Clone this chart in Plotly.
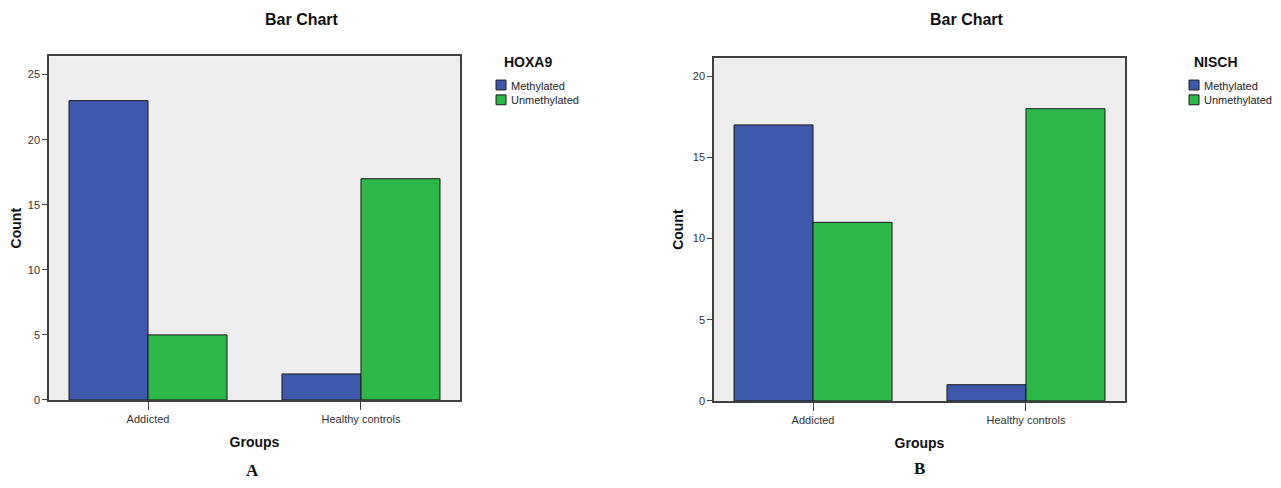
import plotly.graph_objects as go

# ---- data ----
groups = ["Addicted", "Healthy controls"]
status_names = ["Methylated", "Unmethylated"]
status_colors = ["#3e58ab", "#2eb749"]

hoxa9_methylated = [23, 2]
hoxa9_unmethylated = [5, 17]
nisch_methylated = [17, 1]
nisch_unmethylated = [11, 18]

hoxa9_ticks = [0, 5, 10, 15, 20, 25]
nisch_ticks = [0, 5, 10, 15, 20]

panel_genes = ["HOXA9", "NISCH"]
panel_letters = ["A", "B"]

# page body has an 8px margin; the figure fills the rest of the window
OFF = 8
W, H = 1281 - 2 * OFF, 488 - 2 * OFF
FONT = "Arial, 'Liberation Sans', sans-serif"


def px(x):
    return (x - OFF) / W


def py(y):
    return 1 - (y - OFF) / H


fig = go.Figure()

series = [
    ("x", "y", [hoxa9_methylated, hoxa9_unmethylated]),
    ("x2", "y2", [nisch_methylated, nisch_unmethylated]),
]
for xa, ya, vals in series:
    for name, color, v in zip(status_names, status_colors, vals):
        fig.add_trace(go.Bar(
            x=groups, y=v, name=name, xaxis=xa, yaxis=ya,
            marker=dict(color=color, line=dict(color="#1a1a1a", width=1)),
            showlegend=False,
        ))

axis_common_y = dict(
    showgrid=False, zeroline=False, showline=True, linecolor="#404040",
    linewidth=1.5, mirror=True, ticks="outside", ticklen=5, tickwidth=1.2,
    tickcolor="#404040", tickfont=dict(family=FONT, size=11, color="#333333"),
    title=dict(text="<b>Count</b>",
               font=dict(family=FONT, size=14, color="#111111"), standoff=6),
    fixedrange=True,
)
axis_common_x = dict(
    type="category", showgrid=False, zeroline=False, showline=True,
    linecolor="#404040", linewidth=1.5, mirror=True, ticks="outside",
    ticklen=8, tickwidth=1.2, tickcolor="#404040",
    tickfont=dict(family=FONT, size=11, color="#333333"),
    title=dict(text="<b>Groups</b>",
               font=dict(family=FONT, size=14, color="#111111"), standoff=13),
    range=[-0.465, 1.465],
)

fig.update_layout(
    width=W, height=H, autosize=False,
    margin=dict(l=0, r=0, t=0, b=0),
    paper_bgcolor="white", plot_bgcolor="#eeeeee",
    barmode="group", bargap=0.258, bargroupgap=0,
    showlegend=False,
    xaxis=dict(domain=[px(49), px(460)], anchor="y", **axis_common_x),
    yaxis=dict(domain=[py(405), py(57)], anchor="x", range=[0, 26.4],
               tickvals=hoxa9_ticks, **axis_common_y),
    xaxis2=dict(domain=[px(714), px(1125)], anchor="y2", **axis_common_x),
    yaxis2=dict(domain=[py(406), py(59)], anchor="x2", range=[0, 21.1],
                tickvals=nisch_ticks, **axis_common_y),
)

annotations = []
shapes = []
# panel titles, letters and custom legends
title_x = [302, 967]
letter_x = [252, 920]
letter_y = [476, 474]
legend_title_x = [502, 1192]
swatch_x = [496, 1189]
for i in range(2):
    annotations.append(dict(
        x=px(title_x[i]), y=py(20), xref="paper", yref="paper",
        text="<b>Bar Chart</b>", showarrow=False, xanchor="center",
        yanchor="middle", font=dict(family=FONT, size=16, color="#111111")))
    annotations.append(dict(
        x=px(letter_x[i]), y=py(letter_y[i]), xref="paper", yref="paper",
        text="<b>" + panel_letters[i] + "</b>", showarrow=False,
        xanchor="center", yanchor="middle",
        font=dict(family="'Liberation Serif', 'DejaVu Serif', serif",
                  size=17, color="#111111")))
    annotations.append(dict(
        x=px(legend_title_x[i]), y=py(63), xref="paper", yref="paper",
        text="<b>" + panel_genes[i] + "</b>", showarrow=False,
        xanchor="left", yanchor="middle",
        font=dict(family=FONT, size=14, color="#111111")))
    for j, (name, color) in enumerate(zip(status_names, status_colors)):
        top = 81 + 15 * j
        shapes.append(dict(
            type="rect", xref="paper", yref="paper",
            x0=px(swatch_x[i]), x1=px(swatch_x[i] + 10),
            y0=py(top + 10), y1=py(top),
            fillcolor=color, line=dict(color="#1a1a1a", width=1)))
        annotations.append(dict(
            x=px(swatch_x[i] + 13), y=py(top + 5.5), xref="paper",
            yref="paper", text=name, showarrow=False, xanchor="left",
            yanchor="middle",
            font=dict(family=FONT, size=11, color="#222222")))

fig.update_layout(annotations=annotations, shapes=shapes)

fig.write_html("out.html")
